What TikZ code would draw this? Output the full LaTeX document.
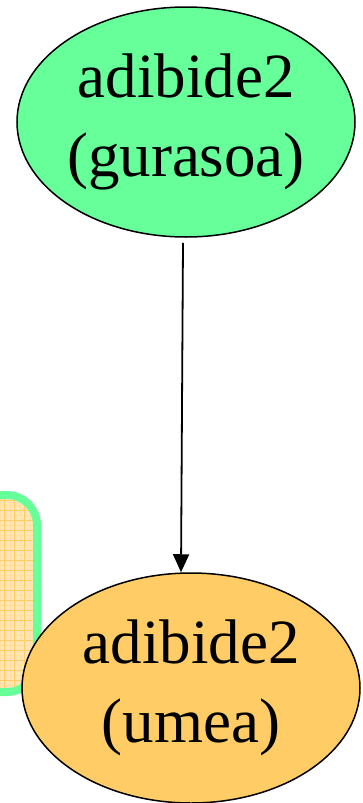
\documentclass[tikz,border=0pt]{standalone}
\usepackage{fontspec}
\setmainfont{Liberation Serif}
\usetikzlibrary{shapes.geometric,arrows.meta,positioning}

\definecolor{mintgreen}{HTML}{66FF99}
\definecolor{sandorange}{HTML}{FFCC66}
\definecolor{paleorange}{HTML}{FFE6B8}

\begin{document}
\begin{tikzpicture}[x=1pt,y=-1pt,
    role/.style={ellipse,draw=black,line width=1.5pt,minimum width=338pt,
      minimum height=230pt,inner sep=0pt,align=center,
      font=\fontsize{63}{79}\selectfont},
    arr/.style={-{Triangle[length=18pt,width=16pt]},line width=1.8pt}]
  \useasboundingbox (0,0) rectangle (362,803);
  % Partly hidden group box
  \begin{scope}
    \clip[rounded corners=30pt] (-60,495) rectangle (37,692);
    \fill[paleorange] (-60,495) rectangle (37,692);
    \foreach \k in {0,...,40} {
      \draw[sandorange!60,line width=0.4pt] (-60,495+5*\k) -- (40,495+5*\k);
    }
    \foreach \k in {0,...,20} {
      \draw[sandorange!60,line width=0.4pt] (40-5*\k,495) -- (40-5*\k,695);
    }
    \foreach \k in {0,...,20} {
      \draw[sandorange,line width=1pt] (-60,500+10*\k) -- (40,500+10*\k);
    }
    \foreach \k in {0,...,10} {
      \draw[sandorange,line width=1pt] (34-10*\k,495) -- (34-10*\k,695);
    }
  \end{scope}
  \draw[mintgreen,line width=8pt,rounded corners=30pt] (-60,495) rectangle (37,692);
  % Define roles
  \node[role,fill=mintgreen] (parent) at (186,122) {adibide2\\(gurasoa)};
  \node[role,fill=sandorange] (child) at (191,688) {adibide2\\(umea)};
  % Link
  \draw[arr] ([xshift=-3pt,yshift=-5pt]parent.south) -- ([xshift=-10pt]child.north);
\end{tikzpicture}
\end{document}
